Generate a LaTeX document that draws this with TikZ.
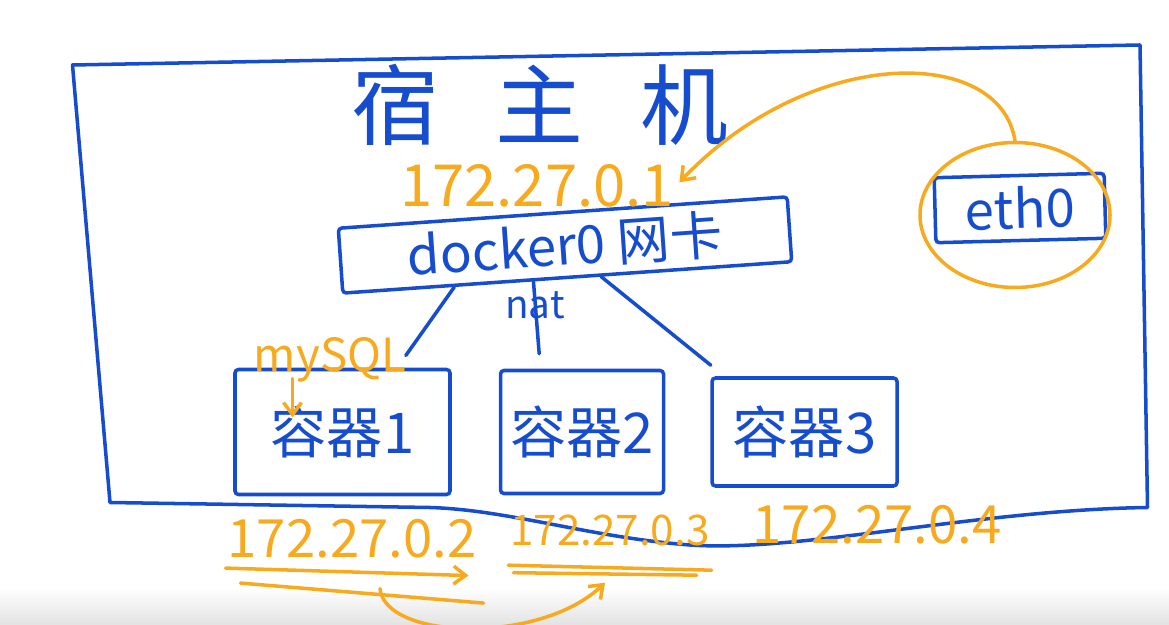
\documentclass[tikz,border=0pt]{standalone}
\usepackage{fontspec}
\newfontfamily\handfont{Noto Sans CJK SC}
\usepackage{tikz}
\usetikzlibrary{shapes, arrows.meta, positioning, calc}
\definecolor{penblue}{RGB}{22, 76, 206}
\definecolor{penorange}{RGB}{247, 170, 30}
\newcommand{\penfs}[1]{\handfont\fontsize{#1}{#1}\selectfont}
\tikzset{
  >=Stealth,
  penline/.style={line width=2pt, penblue, line cap=round, line join=round},
  penline_orange/.style={line width=2pt, penorange, line cap=round, line join=round},
  penarrow_orange/.style={-{Straight Barb[length=2.4mm, width=3.6mm]}, line width=2pt, penorange, line cap=round}
}
\begin{document}
\begin{tikzpicture}[
    boxnode/.style={draw=penblue, line width=2pt, text=penblue, rounded corners=2pt},
    iplabel/.style={text=penorange, inner sep=1pt}]
    \useasboundingbox (0,0) rectangle (23.38,12.5);
    \shade[top color=white, bottom color=gray!22] (0,0) rectangle (23.38,0.75);
    % 宿主机外框
    \draw[penline] (1.45,11.2) -- (22.8,11.6) -- (22.95,2.35)
        .. controls (19.5,2.3) and (16,1.45) .. (13.8,1.6)
        .. controls (11.8,1.75) and (10.2,2.3) .. (8.6,2.35) -- (2.2,2.45) -- cycle;
    \node (host) at (10.8,10.4) [text=penblue, font=\penfs{50}] {宿\hspace{0.65em}主\hspace{0.65em}机};
    % docker0 网卡
    \node (dock) at (11.3,7.6) [boxnode, rotate=4, minimum width=9cm, minimum height=1.3cm, font=\penfs{30}] {docker0 网卡};
    \node (ip1) at (10.74,8.78) [iplabel, font=\penfs{33}] {172.27.0.1};
    \node (nat) at (10.7,6.4) [text=penblue, font=\penfs{22}] {nat};
    % 容器
    \node (c1) at (6.85,3.86) [boxnode, minimum width=4.3cm, minimum height=2.5cm, font=\penfs{32}] {容器1};
    \node (c2) [boxnode, right=0.94cm of c1, minimum width=3.26cm, minimum height=2.46cm, font=\penfs{32}] {容器2};
    \node (c3) [boxnode, right=0.9cm of c2, minimum width=3.7cm, minimum height=2.16cm, font=\penfs{32}] {容器3};
    \node (mysql) at (6.6,5.3) [iplabel, font=\penfs{26}] {mySQL};
    \coordinate (mysqltip) at (5.85,4.15);
    \draw[penarrow_orange] ($(mysql.south)+(-0.75,0.12)$) -- (mysqltip);
    % 网卡 -> 容器
    \draw[penline, shorten >=0.3cm] ($(dock.south)!0.5!(dock.south west)$) -- ($(c1.north)!0.5!(c1.north east)$);
    \draw[penline, shorten >=0.3cm] ($(dock.south)!0.15!(dock.south west)$) -- ($(c2.north)!0.5!(c2.north west)$);
    \draw[penline, shorten >=0.35cm] ($(dock.south)!0.15!(dock.south east)$) -- ($(c3.north)!0.85!(c3.north west)$);
    % eth0
    \node (eth) at (20.4,8.34) [boxnode, rotate=1.5, minimum width=3.4cm, minimum height=1.3cm, font=\penfs{30}] {eth0};
    \node (ring) at (20.3,8.2) [draw=penorange, line width=2pt, ellipse, minimum width=3.8cm, minimum height=2.9cm] {};
    \draw[penarrow_orange, shorten >=0.1cm] (ring.north) .. controls (20.0,11.6) and (16.2,11.6) .. (ip1.east);
    % 容器 IP
    \node (ip2) at (7.04,1.72) [iplabel, font=\penfs{30}] {172.27.0.2};
    \node (ip3) at (12.2,1.9) [iplabel, font=\penfs{24}] {172.27.0.3};
    \node (ip4) at (17.54,2.0) [iplabel, font=\penfs{30}] {172.27.0.4};
    \draw[penarrow_orange] ($(ip2.south west)+(0,-0.15)$) -- ($(ip2.south east)+(-0.2,-0.3)$);
    \draw[penline_orange] ($(ip2.south west)+(0.3,-0.45)$) -- ($(ip2.south east)+(0.1,-0.85)$);
    \draw[penline_orange] ($(ip3.south west)+(0,-0.35)$) -- ($(ip3.south east)+(0,-0.45)$);
    \draw[penline_orange] ($(ip3.south west)+(0.1,-0.5)$) -- ($(ip3.south east)+(-0.3,-0.55)$);
    \draw[penarrow_orange] ($(ip2.south)+(0.56,-0.56)$) .. controls (7.7,-0.3) and (10.8,-0.4) .. ($(ip3.south)+(-0.1,-0.7)$);
\end{tikzpicture}
\end{document}
